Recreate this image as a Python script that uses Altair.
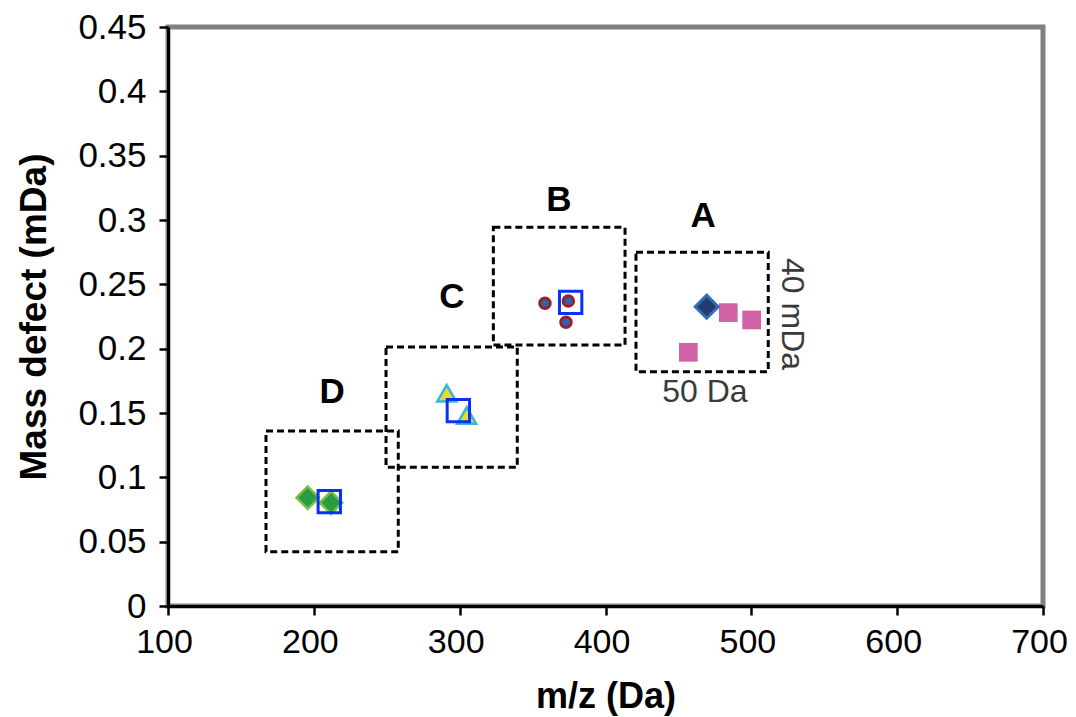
import altair as alt
import pandas as pd

# ---- data ----
# group D (green diamonds)
d_mz = [195.8, 211.8]
d_md = [0.0842, 0.0803]
# group C (yellow/cyan triangles)
c_mz = [291.1, 304.8]
c_md = [0.1653, 0.1480]
# group B (blue/red circles)
b_mz = [358.5, 374.5, 372.9]
b_md = [0.2353, 0.2370, 0.2205]
# group A (navy diamond + pink squares)
a_dia_mz = [469.4]
a_dia_md = [0.2326]
a_sq_mz = [484.2, 500.2, 456.8]
a_sq_md = [0.2280, 0.2223, 0.1972]
# open blue squares
open_mz = [210.6, 299.1, 376.1]
open_md = [0.0811, 0.1518, 0.2360]

# dashed boxes and their letters
box_labels = ["D", "C", "B", "A"]
box_x0 = [167.2, 249.5, 323.1, 420.9]
box_x1 = [257.9, 339.5, 413.4, 511.6]
box_y0 = [0.0422, 0.1078, 0.2028, 0.1821]
box_y1 = [0.1360, 0.2013, 0.2943, 0.2749]
label_x = [212.5, 294.7, 368.1, 466.9]
label_y = [0.1663, 0.2402, 0.3155, 0.3031]

# scale annotations
note_text = ["50 Da", "40 mDa"]
note_x = [468.2, 527.9]
note_y = [0.1663, 0.2269]

x_ticks = [100, 200, 300, 400, 500, 600, 700]
y_ticks = [0, 0.05, 0.1, 0.15, 0.2, 0.25, 0.3, 0.35, 0.4, 0.45]

FONT = "Liberation Sans"

xs = alt.Scale(domain=[100, 700], nice=False, zero=False)
ys = alt.Scale(domain=[0, 0.45], nice=False)

AX = alt.Axis(values=x_ticks, title="m/z (Da)", format="d", labelFlush=False,
              labelPadding=10, titlePadding=20, labelFontSize=34, labelOffset=-4)
AY = alt.Axis(values=y_ticks, title="Mass defect (mDa)", format="~g", labelFlush=False,
              labelPadding=13, titlePadding=24, titleFontSize=37)

X = alt.X("mz:Q", scale=xs, axis=AX)
Y = alt.Y("md:Q", scale=ys, axis=AY)


def df(mz, md):
    return pd.DataFrame({"mz": mz, "md": md})


boxes = alt.Chart(pd.DataFrame({"x0": box_x0, "x1": box_x1, "y0": box_y0, "y1": box_y1})).mark_rect(
    fill=None, stroke="black", strokeWidth=3, strokeDash=[7, 4]
).encode(
    x=alt.X("x0:Q", scale=xs, axis=AX), x2="x1:Q",
    y=alt.Y("y0:Q", scale=ys, axis=AY), y2="y1:Q",
)

pts_d = alt.Chart(df(d_mz, d_md)).mark_point(
    shape="diamond", filled=True, fill="#2a9a45", stroke="#76c043",
    strokeWidth=2.5, size=500, opacity=1
).encode(x=X, y=Y)

pts_c = alt.Chart(df(c_mz, c_md)).mark_point(
    shape="triangle-up", filled=True, fill="#e6e020", stroke="#38b6e0",
    strokeWidth=2.5, size=360, opacity=1
).encode(x=X, y=Y)

pts_b = alt.Chart(df(b_mz, b_md)).mark_point(
    shape="circle", filled=True, fill="#2b63ac", stroke="#9a1f2e",
    strokeWidth=3, size=110, opacity=1
).encode(x=X, y=Y)

pts_a_dia = alt.Chart(df(a_dia_mz, a_dia_md)).mark_point(
    shape="diamond", filled=True, fill="#27396d", stroke="#2f6db5",
    strokeWidth=3, size=529, opacity=1
).encode(x=X, y=Y)

pts_a_sq = alt.Chart(df(a_sq_mz, a_sq_md)).mark_point(
    shape="square", filled=True, fill="#d262a6", stroke="#d262a6",
    strokeWidth=0, size=350, opacity=1
).encode(x=X, y=Y)

pts_open = alt.Chart(df(open_mz, open_md)).mark_point(
    shape="square", filled=False, stroke="#0b30f5", strokeWidth=3,
    size=500, opacity=1
).encode(x=X, y=Y)

letters = alt.Chart(pd.DataFrame({"t": box_labels, "x": label_x, "y": label_y})).mark_text(
    font=FONT, fontSize=35, fontWeight="bold", color="black", align="center", baseline="middle"
).encode(x=alt.X("x:Q", scale=xs, axis=AX), y=alt.Y("y:Q", scale=ys, axis=AY), text="t:N")

note_df = pd.DataFrame({"t": note_text, "x": note_x, "y": note_y})
note1 = alt.Chart(note_df.iloc[[0]]).mark_text(
    font=FONT, fontSize=32, color="#3a3a3a", align="center", baseline="middle"
).encode(x=alt.X("x:Q", scale=xs, axis=AX), y=alt.Y("y:Q", scale=ys, axis=AY), text="t:N")
note2 = alt.Chart(note_df.iloc[[1]]).mark_text(
    font=FONT, fontSize=32, color="#3a3a3a", align="center", baseline="middle", angle=90
).encode(x=alt.X("x:Q", scale=xs, axis=AX), y=alt.Y("y:Q", scale=ys, axis=AY), text="t:N")

chart = alt.layer(
    boxes, pts_d, pts_c, pts_b, pts_a_sq, pts_a_dia, pts_open, letters, note1, note2
).properties(
    width=875, height=579,
    autosize=alt.AutoSizeParams(type="none"),
    padding={"left": 160, "top": 19, "right": 25, "bottom": 112},
    background="white",
).configure_view(
    stroke="#7d8287", strokeWidth=5
).configure_axis(
    grid=False,
    domainColor="black", domainWidth=3,
    tickColor="black", tickWidth=2.5, tickSize=9,
    labelFont=FONT, labelFontSize=35, labelColor="black",
    titleFont=FONT, titleFontSize=36, titleFontWeight="bold", titleColor="black",
)

chart.save("out.html", embed_options={"renderer": "svg", "actions": False})
